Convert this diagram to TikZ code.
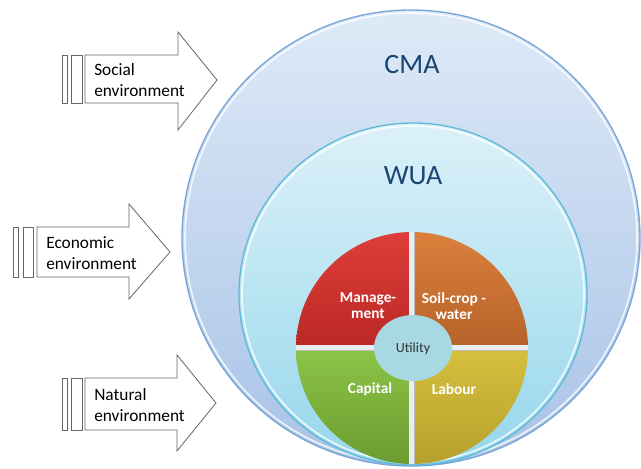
\documentclass[tikz,border=0pt]{standalone}
\usepackage{fontspec}
\setmainfont{Carlito}
\usetikzlibrary{positioning}

\definecolor{cmaline}{RGB}{120,165,215}
\definecolor{cmatop}{RGB}{222,234,247}
\definecolor{cmabot}{RGB}{168,195,231}
\definecolor{wualine}{RGB}{95,185,215}
\definecolor{wuatop}{RGB}{220,241,249}
\definecolor{wuabot}{RGB}{150,215,235}
\definecolor{titleblue}{RGB}{25,70,115}
\definecolor{mgmtcol}{RGB}{222,62,58}
\definecolor{mgmtdark}{RGB}{186,40,36}
\definecolor{soilcol}{RGB}{220,128,60}
\definecolor{soildark}{RGB}{182,98,42}
\definecolor{capcol}{RGB}{140,196,72}
\definecolor{capdark}{RGB}{108,156,48}
\definecolor{labcol}{RGB}{214,192,62}
\definecolor{labdark}{RGB}{182,160,44}
\definecolor{gapcol}{RGB}{232,238,240}
\definecolor{utilcol}{RGB}{168,216,226}

\tikzset{
  envarrow/.style={draw=black!60, fill=white, line width=0.6},
  envtext/.style={anchor=west, align=left, font=\fontsize{13}{15.5}\selectfont, inner sep=0},
  bigtitle/.style={text=titleblue, font=\fontsize{21}{24}\selectfont, inner sep=0},
  pietext/.style={text=white, align=center, font=\fontsize{11.5}{12}\selectfont\bfseries, inner sep=0}
}

\begin{document}
\begin{tikzpicture}[x=0.75pt,y=0.75pt,yscale=-1,xscale=1]
\useasboundingbox (0,0) rectangle (641,468);

%Shape: Ellipse CMA
\shade [top color=cmatop, bottom color=cmabot, draw=cmaline, line width=1]  (411,238) ellipse [x radius=229, y radius=228];
\draw [white, line width=1.2, opacity=0.8]  (411,238) ellipse [x radius=226, y radius=225];
%Shape: Ellipse WUA
\shade [top color=wuatop, bottom color=wuabot, draw=wualine, line width=1]  (413,294) ellipse [x radius=174, y radius=171];
\draw [white, line width=1.2, opacity=0.8]  (413,294) ellipse [x radius=171, y radius=168];

%Shape: Pie quarters
\shade [top color=mgmtcol, bottom color=mgmtdark]  (412,348) -- ++(180:116) arc [start angle=180, end angle=270, radius=116] -- cycle ;
\shade [top color=soilcol, bottom color=soildark]  (412,348) -- ++(270:116) arc [start angle=270, end angle=360, radius=116] -- cycle ;
\shade [top color=labcol, bottom color=labdark]  (412,348) -- ++(0:116) arc [start angle=0, end angle=90, radius=116] -- cycle ;
\shade [top color=capcol, bottom color=capdark]  (412,348) -- ++(90:116) arc [start angle=90, end angle=180, radius=116] -- cycle ;
%Straight Lines gaps
\draw [gapcol, line width=4.5]  (296,348) -- (528,348) ;
\draw [gapcol, line width=4.5]  (412,232) -- (412,464) ;
\draw [black!25, line width=0.5]  (296,350.5) -- (528,350.5) ;
\draw [black!25, line width=0.5]  (414.5,232) -- (414.5,464) ;
%Shape: Ellipse Utility
\fill [utilcol]  (413,348) ellipse [x radius=39, y radius=33];

%Shape: Striped arrow social
\draw [envarrow]  (62,55) rectangle (67,103) ;
\draw [envarrow]  (71,55) rectangle (82,103) ;
\draw [envarrow]  (85,55) -- (178,55) -- (178,32) -- (217,80) -- (178,130) -- (178,103) -- (85,103) -- cycle ;
%Shape: Striped arrow economic
\draw [envarrow]  (13,227) rectangle (18,277) ;
\draw [envarrow]  (23,227) rectangle (33,277) ;
\draw [envarrow]  (37,227) -- (129,227) -- (129,204) -- (170,252) -- (129,299) -- (129,277) -- (37,277) -- cycle ;
%Shape: Striped arrow natural
\draw [envarrow]  (62,378) rectangle (67,430) ;
\draw [envarrow]  (71,378) rectangle (82,430) ;
\draw [envarrow]  (85,378) -- (177,378) -- (177,355) -- (216,403) -- (177,451) -- (177,430) -- (85,430) -- cycle ;

% Text Node
\node [envtext] (social) at (94,80) {Social\\environment};
% Text Node
\node [envtext] (economic) at (46,253) {Economic\\environment};
% Text Node
\node [envtext] (natural) at (94,405) {Natural\\environment};
% Text Node
\node [bigtitle] (cma) at (412,65) {CMA};
% Text Node
\node [bigtitle] (wua) at (413,176) {WUA};
% Text Node
\node [pietext] (mgmt) at (368,306) {Manage-\\ment};
% Text Node
\node [pietext] (soil) at (454,306) {Soil-crop -\\water};
% Text Node
\node [pietext] (capital) at (370,389) {Capital};
% Text Node
\node [pietext] (labour) at (454,389) {Labour};
% Text Node
\node [text=black!80, font=\fontsize{10.5}{12}\selectfont, inner sep=0] (utility) at (413,349) {Utility};

\end{tikzpicture}
\end{document}
